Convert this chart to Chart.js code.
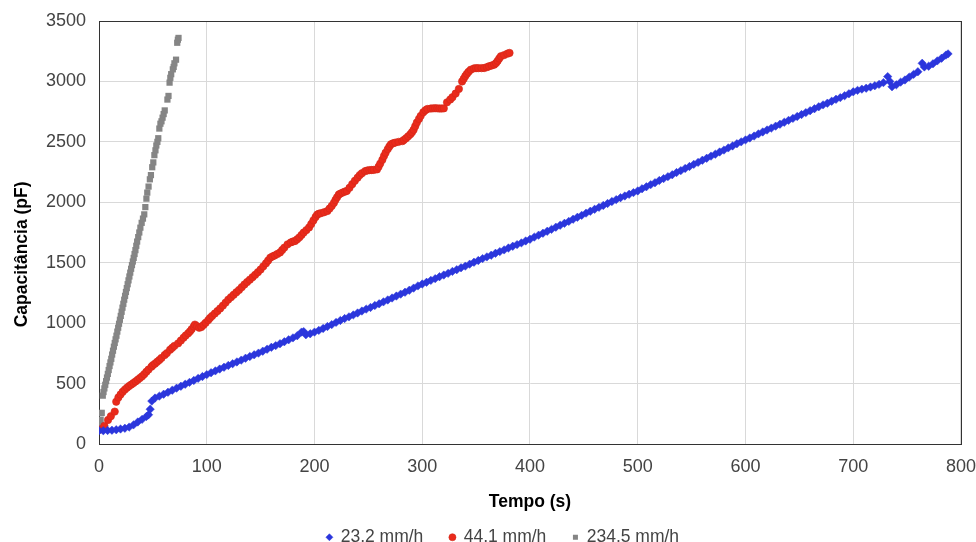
<!DOCTYPE html>
<html>
<head>
<meta charset="utf-8">
<script src="https://cdn.jsdelivr.net/npm/chart.js@4.4.1/dist/chart.umd.min.js"></script>
<style>
  body { margin: 0; background: #fff; }
  #grafico { display: block; }
</style>
</head>
<body>
<canvas id="grafico" width="976" height="542"></canvas>
<script>
// legenda das series
const rotulos = ['23,2 mm/h', '44,1 mm/h', '234,5 mm/h'];
const cores = ['#2b36dc', '#ea2a1b', '#858585'];

// [tempo (s), capacitancia (pF)]
const serie232 = [
  [0,110],[4,110],[8,112],[12,114],[16,118],[20,124],[24,130],[28,140],[32,158],[36,182],
  [40,204],[44,228],[46,242],[47.5,288],[49,355],[52,380],[56,396],[60,412],[64,428],[68,445],
  [72,462],[76,478],[80,494],[84,510],[88,526],[92,543],[96,558],[100,574],[104,590],[108,605],
  [112,620],[116,635],[120,650],[124,664],[128,679],[132,694],[136,710],[140,724],[144,738],[148,752],
  [152,768],[156,784],[160,800],[164,814],[168,830],[172,846],[176,862],[180,878],[184,896],[188,926],
  [190,930],[192,904],[196,912],[200,926],[204,940],[208,956],[212,972],[216,988],[220,1006],[224,1022],
  [228,1038],[232,1052],[236,1068],[240,1084],[244,1100],[248,1116],[252,1130],[256,1146],[260,1160],[264,1176],
  [268,1192],[272,1208],[276,1224],[280,1240],[284,1256],[288,1272],[292,1290],[296,1308],[300,1324],[304,1338],
  [308,1354],[312,1368],[316,1384],[320,1398],[324,1412],[328,1428],[332,1442],[336,1458],[340,1472],[344,1488],
  [348,1504],[352,1518],[356,1534],[360,1548],[364,1562],[368,1578],[372,1592],[376,1606],[380,1622],[384,1636],
  [388,1650],[392,1664],[396,1680],[400,1694],[404,1712],[408,1728],[412,1744],[416,1760],[420,1776],[424,1794],
  [428,1810],[432,1826],[436,1842],[440,1860],[444,1876],[448,1892],[452,1910],[456,1926],[460,1942],[464,1958],
  [468,1974],[472,1990],[476,2006],[480,2022],[484,2038],[488,2052],[492,2066],[496,2080],[500,2094],[504,2112],
  [508,2128],[512,2146],[516,2162],[520,2180],[524,2196],[528,2212],[532,2228],[536,2246],[540,2262],[544,2280],
  [548,2296],[552,2314],[556,2330],[560,2348],[564,2364],[568,2382],[572,2398],[576,2416],[580,2432],[584,2450],
  [588,2466],[592,2484],[596,2500],[600,2516],[604,2532],[608,2548],[612,2566],[616,2582],[620,2598],[624,2614],
  [628,2630],[632,2646],[636,2662],[640,2678],[644,2694],[648,2710],[652,2726],[656,2742],[660,2758],[664,2774],
  [668,2790],[672,2806],[676,2820],[680,2836],[684,2852],[688,2866],[692,2882],[696,2898],[700,2914],[704,2926],
  [708,2936],[712,2944],[716,2954],[720,2964],[724,2976],[728,2990],[732,3040],[734,3000],[736,2956],[740,2972],
  [744,2994],[748,3012],[752,3036],[756,3058],[760,3080],[764,3150],[766,3120],[770,3126],[774,3146],[778,3170],
  [782,3192],[786,3218],[788,3228]
];

const serie441 = [
  [0,118],[2,122],[5,150],[8.4,199],[11,230],[14.6,268],[16,350],[18,385],[20,410],[22,432],
  [24,450],[26,466],[28,480],[30,492],[32,505],[34,518],[36,532],[38,546],[40,560],[42,578],
  [44,598],[46,616],[48.7,640],[50,652],[52,665],[54,680],[56,695],[58,712],[61,736],[63,752],
  [66,780],[68,796],[70,812],[73.5,833],[76,856],[78.5,880],[80.5,898],[82.8,916],[84.5,932],[86,950],
  [88,972],[89,988],[91,975],[93,962],[95,968],[97,985],[99,1003],[101.4,1025],[103,1042],[105,1060],
  [107.5,1080],[110,1100],[112.5,1122],[115,1145],[117.5,1170],[120,1195],[122.5,1215],[125,1235],[127.5,1255],[130,1275],
  [132.5,1298],[135,1320],[137.5,1340],[140,1360],[142.5,1380],[145,1400],[147.5,1422],[150,1444],[152.5,1470],[155,1495],
  [157,1518],[159,1542],[161,1552],[163,1560],[165.5,1572],[168,1585],[170,1605],[172,1625],[175,1652],[178,1668],
  [180,1675],[182,1680],[184,1694],[186,1710],[188,1730],[190,1750],[192.5,1770],[195,1792],[197,1820],[199,1850],
  [201,1878],[202.5,1898],[204,1905],[206,1910],[209,1918],[212,1928],[214,1948],[216,1970],[218,1995],[219.5,2020],
  [221,2042],[222.6,2064],[224,2072],[226,2080],[228,2088],[230,2094],[232.5,2120],[235,2150],[237.5,2178],[240,2204],
  [242,2225],[244,2240],[247,2258],[249,2263],[251,2266],[253,2267],[255,2268],[258,2272],[259.5,2295],[261,2320],
  [263,2352],[264.5,2383],[266,2410],[268,2440],[269.5,2462],[271,2480],[273,2488],[275,2494],[278,2500],[281.5,2506],
  [283,2516],[285,2530],[287,2546],[289,2563],[290.5,2580],[292,2600],[293.5,2630],[295,2660],[297,2690],[298.6,2715],
  [301,2745],[303,2762],[304.8,2772],[308,2776],[310,2777],[312,2778],[314,2777],[316,2776],[318,2776],[320,2777],
  [323,2827],[326,2850],[328,2869],[331,2900],[334,2938],[337,3000],[338.5,3022],[340,3045],[341.5,3063],[343,3080],[345,3097],
  [348,3108],[350,3110],[352,3110],[355,3110],[357.5,3111],[360,3118],[362,3125],[364.5,3132],[366.8,3139],[368.5,3152],
  [370,3170],[371.5,3190],[373,3208],[376,3218],[379,3230],[381,3236]
];

const serie2345 = [
  [0,125],[0.5,145],[1,160],[1.5,200],[2,255],[2.5,258],[3.5,400],[4.2,430],[5,460],[5.8,490],
  [6.6,520],[7.4,550],[8.2,580],[9,612],[9.8,645],[10.6,675],[11.4,705],[12.2,740],[13,772],[13.8,805],
  [14.6,836],[15.4,866],[16.2,896],[17,930],[17.8,962],[18.6,995],[19.4,1028],[20.2,1060],[21,1094],[21.8,1128],
  [22.6,1160],[23.4,1194],[24.2,1226],[25,1258],[25.8,1290],[26.6,1322],[27.4,1354],[28.2,1386],[29,1418],[29.8,1450],
  [30.6,1480],[31.4,1510],[32.2,1540],[33,1572],[33.8,1604],[34.6,1640],[35.4,1675],[36.4,1712],[37.4,1750],[38.4,1790],
  [39.6,1830],[40.8,1865],[42,1900],[43,1960],[44,2030],[44.8,2080],[46,2130],[47.2,2190],[48.2,2225],[49.4,2290],
  [50.4,2330],[51.4,2390],[52.4,2430],[53.2,2470],[54.2,2500],[55,2530],[56,2610],[57,2650],[58,2670],[59,2700],
  [60,2730],[61,2760],[63.5,2850],[64.5,2880],[65.5,2990],[66.2,3030],[67,3060],[68.5,3100],[69.3,3120],[70,3150],
  [71.5,3180],[72.6,3320],[73.2,3345],[73.8,3360]
];

const ticksX = [0, 100, 200, 300, 400, 500, 600, 700, 800];
const ticksY = [0, 500, 1000, 1500, 2000, 2500, 3000, 3500];

const pontos = (serie) => serie.map(p => ({ x: p[0], y: p[1] }));

// moldura escura em volta da area do grafico
const moldura = {
  id: 'moldura',
  beforeDatasetsDraw(chart) {
    const { ctx, chartArea } = chart;
    ctx.save();
    ctx.strokeStyle = '#333';
    ctx.lineWidth = 1;
    ctx.strokeRect(Math.round(chartArea.left) + 0.5, Math.round(chartArea.top) + 0.5,
      Math.round(chartArea.right - chartArea.left), Math.round(chartArea.bottom - chartArea.top));
    ctx.restore();
  }
};

const fonte = 'Arial, "Liberation Sans", sans-serif';
// espacos no fim deslocam o titulo do eixo y um pouco para baixo, como no original
const tituloY = 'Capacitância (pF)' + '\u00a0'.repeat(9);
// espaco extra entre os itens da legenda
const folga = '\u00a0'.repeat(3);

const ctx = document.getElementById('grafico').getContext('2d');
const grafico = new Chart(ctx, {
  type: 'scatter',
  data: {
    datasets: [
      {
        label: rotulos[0] + folga,
        data: pontos(serie232),
        pointStyle: 'rectRot',
        pointRadius: 4.2,
        backgroundColor: cores[0],
        borderColor: cores[0],
        borderWidth: 0.5,
      },
      {
        label: rotulos[1] + folga,
        data: pontos(serie441),
        pointStyle: 'circle',
        pointRadius: 3.7,
        backgroundColor: cores[1],
        borderColor: '#d2281a',
        borderWidth: 0.6,
      },
      {
        label: rotulos[2],
        data: pontos(serie2345),
        pointStyle: 'rect',
        pointRadius: 4.4,
        backgroundColor: cores[2],
        borderColor: cores[2],
        borderWidth: 0,
      },
    ]
  },
  plugins: [moldura],
  options: {
    responsive: false,
    animation: false,
    events: [],
    layout: {
      padding: { top: 21, right: 15, left: 45, bottom: -14 }
    },
    scales: {
      x: {
        type: 'linear',
        min: 0,
        max: 800,
        afterFit: (scale) => { scale.height = 72.5; },
        afterBuildTicks: (scale) => { scale.ticks = ticksX.map(v => ({ value: v })); },
        grid: { color: '#d9d9d9', drawTicks: true, tickLength: 12, tickColor: 'rgba(0,0,0,0)' },
        border: { color: '#333' },
        ticks: {
          padding: 0,
          color: '#444',
          font: { family: fonte, size: 18 },
          callback: (v) => String(v),
        },
        title: {
          display: true,
          text: 'Tempo (s)',
          color: '#000',
          font: { family: fonte, size: 17.5, weight: 'bold' },
          padding: { top: 0, bottom: 4 },
        },
      },
      y: {
        type: 'linear',
        min: 0,
        max: 3500,
        afterFit: (scale) => { scale.width = 54; },
        afterBuildTicks: (scale) => { scale.ticks = ticksY.map(v => ({ value: v })); },
        grid: { color: '#d9d9d9', drawTicks: true, tickLength: 13, tickColor: 'rgba(0,0,0,0)' },
        border: { color: '#333' },
        ticks: {
          padding: 0,
          color: '#444',
          font: { family: fonte, size: 18 },
          callback: (v) => String(v),
        },
        title: {
          display: true,
          text: tituloY,
          color: '#000',
          font: { family: fonte, size: 17.5, weight: 'bold' },
          padding: { top: -33.5, bottom: 0 },
        },
      },
    },
    plugins: {
      tooltip: { enabled: false },
      legend: {
        position: 'bottom',
        labels: {
          usePointStyle: true,
          boxWidth: 5,
          boxHeight: 5,
          padding: 12,
          color: '#444',
          font: { family: fonte, size: 17.5 },
        },
      },
    },
  },
});
</script>
</body>
</html>
